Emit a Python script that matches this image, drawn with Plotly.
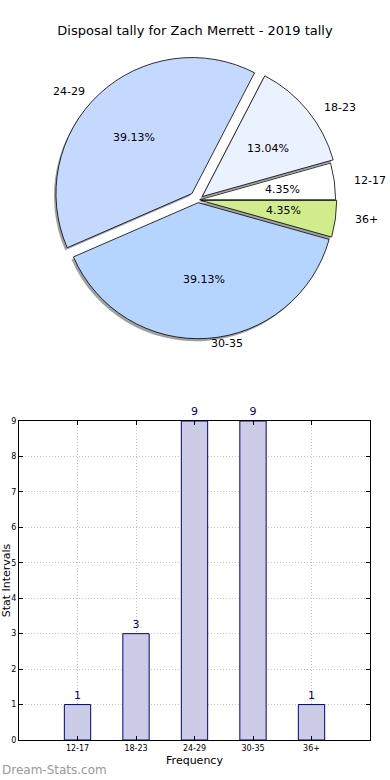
import math
import plotly.graph_objects as go

categories = ["12-17", "18-23", "24-29", "30-35", "36+"]
counts = [1, 3, 9, 9, 1]
pie_colors = ["#ffffff", "#eaf1ff", "#c5d9ff", "#b5d5ff", "#d0ec8c"]
pulls = [0.012, 0.04, 0.065, 0.02, 0.02]
title_text = "Disposal tally for Zach Merrett - 2019 tally"

W, H = 390, 780
FONT = "DejaVu Sans"

# pie geometry (pixels)
CX, CY = 198, 200
R = 136          # plotly pie radius (circle)
RX, RY = 140, 128  # reference text layout radii

def px_x(a, b):
    return [a / W, b / W]

def px_y(top, bottom):
    return [1 - bottom / H, 1 - top / H]

half = R * (1 + max(pulls))
dom_x = px_x(CX - half, CX + half)
dom_y = px_y(CY - half, CY + half)

# plotly draws clockwise from 3 o'clock; reverse order to mimic CCW layout
rev = slice(None, None, -1)
fig = go.Figure()

# shadow
fig.add_trace(go.Pie(
    labels=categories[rev], values=counts[rev], sort=False, direction="clockwise",
    rotation=90, pull=pulls[rev], textinfo="none", hoverinfo="skip",
    marker=dict(colors=["rgba(110,110,110,0.65)"] * len(counts), line=dict(width=0)),
    domain=dict(x=[dom_x[0] - 2 / W, dom_x[1] - 2 / W], y=[dom_y[0] - 2.5 / H, dom_y[1] - 2.5 / H]),
    showlegend=False,
))
# main pie
fig.add_trace(go.Pie(
    labels=categories[rev], values=counts[rev], sort=False, direction="clockwise",
    rotation=90, pull=pulls[rev], textinfo="none",
    marker=dict(colors=pie_colors[rev], line=dict(color="#000000", width=0.8)),
    domain=dict(x=dom_x, y=dom_y), showlegend=False,
))

# pie texts (labels outside at 1.1, percentages at 0.6), computed from data
annotations = []
total = sum(counts)
cum = 0
for cat, v, p in zip(categories, counts, pulls):
    theta = 2 * math.pi * (cum + v / 2) / total
    cum += v
    c, s = math.cos(theta), math.sin(theta)
    ox, oy = CX + p * RX * c, CY - p * RY * s
    lx, ly = ox + 1.1 * RX * c, oy - 1.1 * RY * s
    annotations.append(dict(
        text=cat, xref="paper", yref="paper", x=lx / W, y=1 - ly / H,
        xanchor="left" if c > 0 else "right", yanchor="middle", showarrow=False,
        font=dict(family=FONT, size=11, color="#000000")))
    tx, ty = ox + 0.6 * RX * c, oy - 0.6 * RY * s
    annotations.append(dict(
        text=f"{100 * v / total:.2f}%", xref="paper", yref="paper", x=tx / W, y=1 - ty / H,
        xanchor="center", yanchor="middle", showarrow=False,
        font=dict(family=FONT, size=11, color="#000000")))

fig.add_trace(go.Bar(
    x=categories, y=counts, width=0.45,
    marker=dict(color="#ccccE6", line=dict(color="#000080", width=1)),
    text=[str(c) for c in counts], textposition="outside", cliponaxis=False,
    constraintext="none",
    textfont=dict(family=FONT, size=11, color="#000080"),
    showlegend=False, xaxis="x", yaxis="y",
))

annotations.append(dict(text="Dream-Stats.com", xref="paper", yref="paper", x=0, y=1 - 770 / H,
                        xanchor="left", yanchor="middle", showarrow=False,
                        font=dict(family=FONT, size=12, color="#999999")))

axis_common = dict(showline=True, linecolor="#000000", linewidth=1, mirror="ticks",
                   ticks="inside", ticklen=4, tickcolor="#000000",
                   showgrid=True, gridcolor="#c4c4c4", griddash="1px,2px", gridwidth=1,
                   tickfont=dict(family=FONT, size=8, color="#000000"), automargin=False,
                   zeroline=False)

fig.update_layout(
    width=W, height=H, margin=dict(l=0, r=0, t=0, b=0),
    paper_bgcolor="white", plot_bgcolor="white",
    font=dict(family=FONT, color="#000000"),
    title=dict(text=title_text, x=0.5, xanchor="center", y=1 - 30 / H, yanchor="middle",
               font=dict(family=FONT, size=13, color="#000000")),
    xaxis=dict(domain=px_x(19, 370), range=[-1, 5],
               title=dict(text="Frequency", font=dict(family=FONT, size=11), standoff=4),
               **axis_common),
    yaxis=dict(domain=px_y(421, 740), range=[0, 9], dtick=1,
               title=dict(text="Stat Intervals", font=dict(family=FONT, size=11), standoff=0),
               **axis_common),
    annotations=annotations,
)

fig.write_html("out.html", config={"displayModeBar": False},
               post_script="document.body.style.margin='0';")
